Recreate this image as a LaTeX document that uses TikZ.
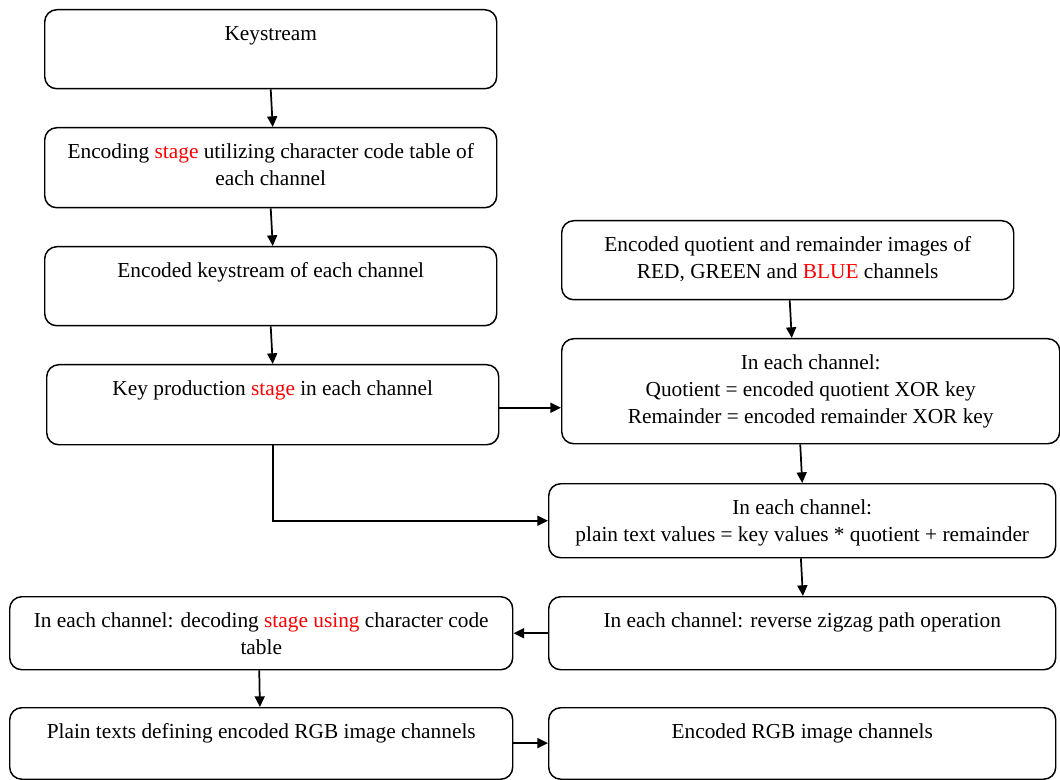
\documentclass[tikz,border=0pt]{standalone}
\usepackage{fontspec}
\setmainfont{Liberation Serif}
\usetikzlibrary{arrows.meta,calc}
\newcommand{\bt}[3]{\parbox[t][\dimexpr #2pt*3/4\relax][t]{\dimexpr #1pt*3/4\relax}{\centering\rule{0pt}{23.25pt}#3}}
\begin{document}
\begin{tikzpicture}[x=0.75pt,y=-0.75pt,
  box/.style={draw, line width=1.1pt, rounded corners=9pt, inner sep=0pt, anchor=north west, font=\fontsize{16}{20.25}\selectfont},
  arr/.style={line width=1.3pt, -{Triangle[length=8pt,width=7.5pt]}}]
\useasboundingbox (0,0) rectangle (1060,780);
\node[box] (k) at (44,9) {\bt{452}{79}{Keystream}};
\node[box] (enc) at (44,127) {\bt{452}{80}{Encoding \textcolor{red}{stage} utilizing character code table of\\each channel}};
\node[box] (eks) at (44,246) {\bt{452}{79}{Encoded keystream of each channel}};
\node[box] (kp) at (46,364) {\bt{452}{80}{Key production \textcolor{red}{stage} in each channel}};
\node[box] (eq) at (561,220) {\bt{452}{79}{Encoded quotient and remainder images of\\RED, GREEN and \textcolor{red}{BLUE} channels}};
\node[box] (xor) at (561,338) {\bt{498}{105}{In each channel:\\Quotient = encoded quotient XOR key\\Remainder = encoded remainder XOR key}};
\node[box] (pt) at (548,483) {\bt{507}{74}{In each channel:\\plain text values = key values * quotient + remainder}};
\node[box] (rz) at (548,596) {\bt{507}{73}{In each channel: reverse zigzag path operation}};
\node[box] (dec) at (9,596) {\bt{503}{73}{In each channel: decoding \textcolor{red}{stage using} character code\\table}};
\node[box] (pl) at (9,707) {\bt{503}{71.5}{Plain texts defining encoded RGB image channels}};
\node[box] (rgb) at (548,707) {\bt{507}{71.5}{Encoded RGB image channels}};
\draw[arr] (k.south) -- ([xshift=1.5pt]enc.north);
\draw[arr] (enc.south) -- ([xshift=1.5pt]eks.north);
\draw[arr] (eks.south) -- (kp.north);
\draw[arr] ([xshift=1.5pt]eq.south) -- ([xshift=3pt]eq.south |- xor.north);
\draw[arr] ([xshift=-1.5pt]pt.north |- xor.south) -- (pt.north);
\draw[arr] ([xshift=-1pt]pt.south) -- ([xshift=0.5pt]rz.north);
\draw[arr] ([yshift=-2.25pt]kp.east) -- ([yshift=-2.25pt]kp.east -| xor.west);
\draw[arr] (kp.south) |- (pt.west);
\draw[arr] (rz.west) -- (dec.east);
\draw[arr] ([xshift=-1.5pt]dec.south) -- ([xshift=-1pt]pl.north);
\draw[arr] ([yshift=0.3pt]pl.east) -- ([yshift=0.3pt]rgb.west);
\end{tikzpicture}
\end{document}
